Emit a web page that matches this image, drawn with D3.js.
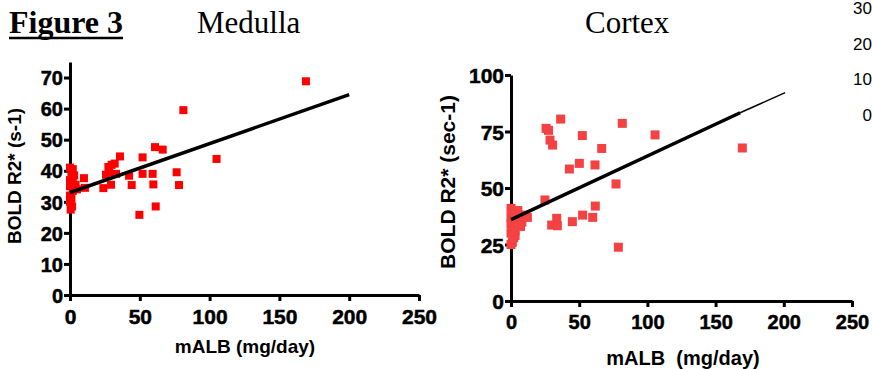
<!DOCTYPE html>
<html>
<head>
<meta charset="utf-8">
<script src="https://cdn.jsdelivr.net/npm/d3@7"></script>
<style>
  body { margin: 0; background: #fff; }
  svg text { font-family: "Liberation Sans", Arial, sans-serif; }
  .serif { font-family: "Liberation Serif", "Times New Roman", serif !important; }
</style>
</head>
<body>
<svg id="fig" width="872" height="369"></svg>
<script>
// values: [mALB, R2*]
const medullaPts = [
  [0, 41], [1, 39.5], [2, 38], [0, 37], [1.5, 36], [0, 35], [3, 34.5], [2, 33.5],
  [0, 32], [1, 31], [0, 30], [1.5, 28.5], [0.5, 27.5], [2, 40.5], [4, 35.5], [3, 38.5], [5, 34],
  [10, 37.6], [10.7, 34.5], [23.9, 34.4], [25.8, 38.7], [27.5, 41.2], [29.8, 41.9], [32, 42.3],
  [28, 39.5], [33, 39], [29.4, 35.5], [35.8, 44.6], [42.3, 38.4], [44.2, 35.4], [49.7, 25.8],
  [52, 44.3], [52, 39], [59.2, 39], [59.7, 35.6], [60.9, 47.6], [61.4, 28.5], [66.4, 46.8],
  [76.4, 39.5], [78.1, 35.4], [81.2, 59.5], [105, 43.8], [169, 68.8]
];
const cortexPts = [
  [0, 41], [1, 39], [0, 37], [2, 36], [0, 34], [1, 32], [0, 30], [2, 28], [1, 26], [4, 38],
  [6, 36], [8, 35], [10, 38], [5, 40], [3, 31], [7, 33], [9, 37], [12, 37], [3, 29], [0, 25],
  [25.7, 76.4], [27.5, 75.5], [36.4, 80.5], [28.6, 71.2], [30.5, 69], [52.3, 73.2], [66.5, 67.5],
  [42.8, 58.4], [50.1, 60.9], [61.6, 60.2], [81.6, 78.6], [77, 51.8], [61.8, 42], [24.9, 44.7],
  [29.8, 33.6], [33.5, 36.6], [34, 33.3], [45, 35.1], [52.5, 38], [59.9, 37], [78.7, 23.8],
  [105.6, 73.5], [169.6, 67.7]
];
const medullaFit = [[0, 33], [200, 64.5]];
const cortexFit = [[0, 36], [168, 83.3]];
const cortexFitExt = [[168, 83.3], [201, 92.2]];

const xTicks = [0, 50, 100, 150, 200, 250];
const medullaYTicks = [0, 10, 20, 30, 40, 50, 60, 70];
const cortexYTicks = [0, 25, 50, 75, 100];
const strayLabels = ['30', '20', '10', '0'];

const svg = d3.select('#fig');

function panel(opt) {
  const x = d3.scaleLinear().domain([0, 250]).range(opt.xr);
  const y = d3.scaleLinear().domain(opt.yd).range(opt.yr);
  const g = svg.append('g');

  const gx = g.append('g')
    .attr('transform', 'translate(0,' + opt.yr[0] + ')')
    .call(d3.axisBottom(x).tickValues(xTicks).tickSize(6).tickPadding(8).tickSizeOuter(0));
  const gy = g.append('g')
    .attr('transform', 'translate(' + opt.xr[0] + ',0)')
    .call(d3.axisLeft(y).tickValues(opt.yTicks).tickSize(6).tickPadding(1).tickSizeOuter(0));

  [gx, gy].forEach(a => {
    a.select('.domain').attr('stroke', '#000').attr('stroke-width', 3);
    a.selectAll('.tick line').attr('stroke', '#000').attr('stroke-width', 3);
    a.selectAll('.tick text')
      .attr('fill', '#000')
      .attr('stroke', '#000')
      .attr('stroke-width', 0.5)
      .style('font-weight', 'bold');
  });
  gx.selectAll('.tick text').style('font-size', opt.xFont + 'px');
  gy.selectAll('.tick text').style('font-size', opt.yFont + 'px').attr('dy', '0.36em');

  g.selectAll('.pt')
    .data(opt.pts)
    .enter()
    .append('rect')
    .attr('x', d => x(d[0]) - opt.sq / 2)
    .attr('y', d => y(d[1]) - opt.sq / 2)
    .attr('width', opt.sq)
    .attr('height', opt.sq)
    .attr('fill', opt.color);

  const line = d3.line().x(d => x(d[0])).y(d => y(d[1]));
  opt.fits.forEach(f => {
    g.append('path')
      .attr('d', line(f.d))
      .attr('fill', 'none')
      .attr('stroke', '#000')
      .attr('stroke-width', f.w);
  });

  g.append('text')
    .attr('x', opt.xTitle[0])
    .attr('y', opt.xTitle[1])
    .attr('text-anchor', 'middle')
    .style('font-weight', 'bold')
    .style('font-size', opt.titleFont[0] + 'px')
    .style('white-space', 'pre')
    .text(opt.xLabel);

  g.append('text')
    .attr('transform', 'translate(' + opt.yTitle[0] + ',' + opt.yTitle[1] + ') rotate(-90)')
    .attr('text-anchor', 'middle')
    .style('font-weight', 'bold')
    .style('font-size', opt.titleFont[1] + 'px')
    .text(opt.yLabel);
}

panel({
  xr: [70, 419], yr: [295, 62], yd: [0, 75], yTicks: medullaYTicks,
  pts: medullaPts, color: '#ff0000', sq: 8, xFont: 21, yFont: 20,
  fits: [{ d: medullaFit, w: 3.5 }],
  xLabel: 'mALB (mg/day)', xTitle: [245, 353],
  yLabel: 'BOLD R2* (s-1)', yTitle: [21, 176], titleFont: [19, 19]
});

panel({
  xr: [511, 852], yr: [301, 75], yd: [0, 100], yTicks: cortexYTicks,
  pts: cortexPts, color: '#f44242', sq: 9, xFont: 20, yFont: 21,
  fits: [{ d: cortexFit, w: 3.5 }, { d: cortexFitExt, w: 1.5 }],
  xLabel: 'mALB  (mg/day)', xTitle: [683, 365],
  yLabel: 'BOLD R2* (sec-1)', yTitle: [455, 182], titleFont: [20, 21]
});

// headings
svg.append('text').attr('class', 'serif')
  .attr('x', 9).attr('y', 33)
  .style('font-size', '32px').style('font-weight', 'bold')
  .text('Figure 3');
svg.append('line')
  .attr('x1', 9).attr('x2', 123).attr('y1', 38).attr('y2', 38)
  .attr('stroke', '#000').attr('stroke-width', 2.5);
svg.append('text').attr('class', 'serif')
  .attr('x', 197).attr('y', 33)
  .style('font-size', '31px')
  .text('Medulla');
svg.append('text').attr('class', 'serif')
  .attr('x', 585).attr('y', 33)
  .style('font-size', '31px')
  .text('Cortex');

// clipped axis labels at the right edge
svg.selectAll('.stray')
  .data(strayLabels)
  .enter()
  .append('text')
  .attr('x', 872)
  .attr('y', (d, i) => 14 + i * 35.5)
  .attr('text-anchor', 'end')
  .style('font-size', '17px')
  .text(d => d);
</script>
</body>
</html>
